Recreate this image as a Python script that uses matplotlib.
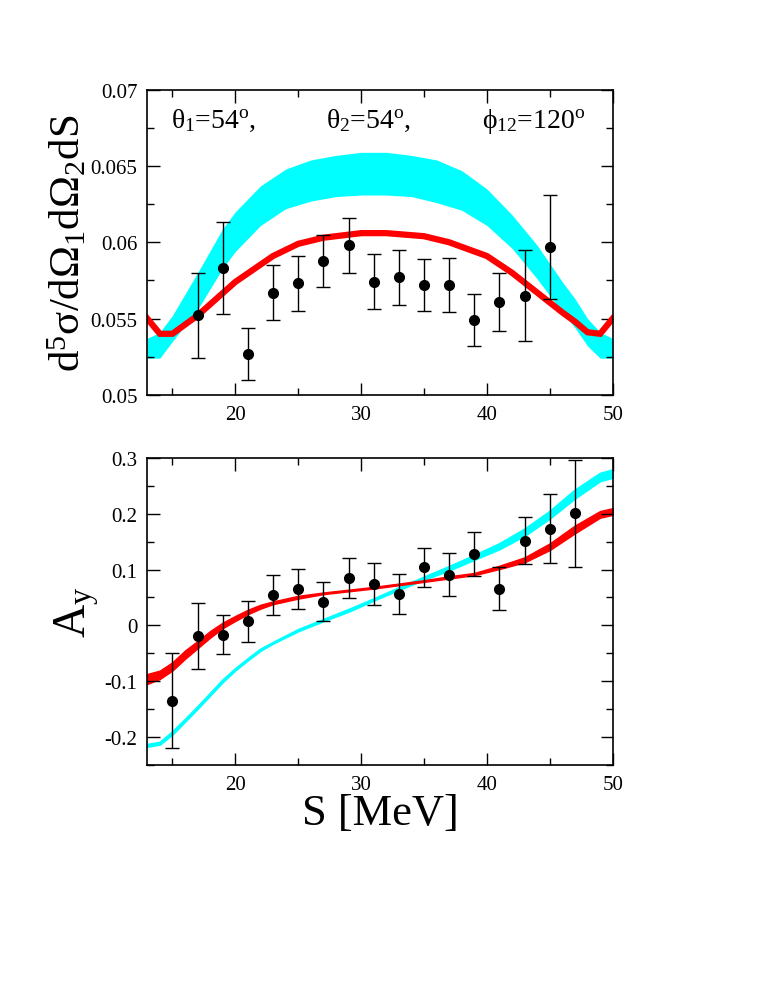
import numpy as np
import matplotlib
matplotlib.use("Agg")
import matplotlib.pyplot as plt
from matplotlib.ticker import MultipleLocator

plt.rcParams['font.family'] = ['Liberation Serif', 'DejaVu Serif']
plt.rcParams['mathtext.fontset'] = 'custom'
plt.rcParams['mathtext.rm'] = 'Liberation Serif'
plt.rcParams['mathtext.it'] = 'Liberation Serif'
plt.rcParams['mathtext.bf'] = 'Liberation Serif:bold'

# --- cross section panel ---
xs_S = [17, 19, 21, 23, 25, 27, 29, 31, 33, 35, 37, 39, 41, 43, 45]
xs_val = [0.0552, 0.0583, 0.0527, 0.0567, 0.0573, 0.0588, 0.0598, 0.0574,
          0.0577, 0.0572, 0.0572, 0.0549, 0.0561, 0.0565, 0.0597]
xs_err = [0.0028, 0.0030, 0.0017, 0.0018, 0.0018, 0.0017, 0.0018, 0.0018,
          0.0018, 0.0017, 0.0018, 0.0017, 0.0019, 0.0030, 0.0034]

xs_red_S = [13, 14, 15, 17, 20, 23, 25, 27, 30, 32, 35, 37, 40, 42, 44, 46, 47, 48, 49, 50]
xs_red = [0.0550, 0.0540, 0.0540, 0.0552, 0.0574, 0.0591, 0.0599, 0.0603, 0.0606, 0.0606,
          0.0604, 0.0600, 0.0591, 0.0580, 0.0567, 0.0554, 0.0548, 0.0541, 0.0540, 0.0550]

xs_cyan_S = [13, 14, 15, 17, 19, 20, 22, 24, 26, 28, 30, 32, 34, 36, 38, 40, 42, 44, 46, 47, 48, 49, 50]
xs_cyan_lo = [0.0524, 0.0524, 0.0535, 0.0556, 0.0583, 0.0594, 0.0611, 0.0622, 0.0627, 0.0630,
              0.0631, 0.0631, 0.0630, 0.0626, 0.0621, 0.0611, 0.0596, 0.0576, 0.0554, 0.0544,
              0.0532, 0.0524, 0.0524]
xs_cyan_hi = [0.0537, 0.0541, 0.0552, 0.0580, 0.0609, 0.0620, 0.0637, 0.0648, 0.0654, 0.0657,
              0.0659, 0.0659, 0.0657, 0.0654, 0.0647, 0.0635, 0.0618, 0.0598, 0.0574, 0.0563,
              0.0550, 0.0541, 0.0537]

# --- analyzing power panel ---
ay_S = [15, 17, 19, 21, 23, 25, 27, 29, 31, 33, 35, 37, 39, 41, 43, 45, 47]
ay_val = [-0.135, -0.019, -0.017, 0.007, 0.054, 0.065, 0.042, 0.085, 0.074, 0.056,
          0.104, 0.091, 0.128, 0.066, 0.152, 0.173, 0.201]
ay_err = [0.085, 0.059, 0.035, 0.036, 0.036, 0.036, 0.035, 0.036, 0.037, 0.036,
          0.035, 0.038, 0.039, 0.038, 0.042, 0.062, 0.096]

ay_band_S = [13, 14, 15, 16, 17, 18, 19, 20, 21, 22, 23, 25, 27, 29, 31, 33, 35, 37, 39, 41, 43, 45, 47, 49, 50]
ay_red_lo = [-0.105, -0.096, -0.081, -0.060, -0.041, -0.022, -0.005, 0.008, 0.020, 0.030,
             0.038, 0.048, 0.056, 0.061, 0.066, 0.072, 0.078, 0.084, 0.090, 0.101,
             0.113, 0.135, 0.165, 0.193, 0.198]
ay_red_hi = [-0.087, -0.081, -0.066, -0.045, -0.028, -0.010, 0.005, 0.017, 0.028, 0.037,
             0.043, 0.053, 0.059, 0.064, 0.069, 0.075, 0.081, 0.088, 0.094, 0.107,
             0.122, 0.147, 0.179, 0.205, 0.210]
ay_cyan_lo = [-0.217, -0.213, -0.195, -0.172, -0.149, -0.125, -0.101, -0.080, -0.062, -0.045,
              -0.032, -0.010, 0.008, 0.025, 0.045, 0.064, 0.082, 0.099, 0.118, 0.137,
              0.161, 0.192, 0.228, 0.259, 0.265]
ay_cyan_hi = [-0.213, -0.209, -0.190, -0.168, -0.145, -0.121, -0.097, -0.077, -0.059, -0.042,
              -0.030, -0.007, 0.011, 0.029, 0.048, 0.068, 0.087, 0.106, 0.126, 0.147,
              0.173, 0.205, 0.243, 0.273, 0.279]

CYAN = '#00FFFF'
RED = '#FF0000'

fig = plt.figure(figsize=(7.63, 9.87), dpi=100)
ax1 = fig.add_axes([0.193, 0.599, 0.610, 0.309])
ax2 = fig.add_axes([0.193, 0.224, 0.610, 0.311])


def style(ax):
    ax.set_xlim(13, 50)
    ax.xaxis.set_major_locator(MultipleLocator(10))
    ax.xaxis.set_minor_locator(MultipleLocator(5))
    ax.tick_params(which='both', direction='in', top=True, right=True, labelsize=15, pad=7)
    ax.tick_params(which='major', length=9, width=1)
    ax.tick_params(which='minor', length=5, width=1)
    for sp in ax.spines.values():
        sp.set_linewidth(1.2)


# top panel
ax1.fill_between(xs_cyan_S, xs_cyan_lo, xs_cyan_hi, color=CYAN, lw=0)
ax1.plot(xs_red_S, xs_red, color=RED, lw=4.5, solid_joinstyle='miter')
ax1.errorbar(xs_S, xs_val, yerr=xs_err, fmt='o', color='black', ms=7,
             capsize=5, elinewidth=1, capthick=1)
style(ax1)
ax1.set_ylim(0.05, 0.07)
ax1.set_yticks([0.05, 0.055, 0.06, 0.065, 0.07])
ax1.set_yticklabels(['0.05', '0.055', '0.06', '0.065', '0.07'])
ax1.yaxis.set_minor_locator(MultipleLocator(0.0025))
ax1.set_ylabel(r'd$^5$σ/dΩ$_1$dΩ$_2$dS', fontsize=31)
ax1.yaxis.set_label_coords(-0.125, 0.5)
ax1.text(0.05, 0.90, r'θ$_1$=54$^{\rm o}$,', transform=ax1.transAxes, fontsize=20, va='center')
ax1.text(0.385, 0.90, r'θ$_2$=54$^{\rm o}$,', transform=ax1.transAxes, fontsize=20, va='center')
ax1.text(0.72, 0.90, r'ϕ$_{12}$=120$^{\rm o}$', transform=ax1.transAxes, fontsize=20, va='center')

# bottom panel
ax2.fill_between(ay_band_S, ay_cyan_lo, ay_cyan_hi, color=CYAN, lw=1.5, edgecolor=CYAN)
ax2.fill_between(ay_band_S, ay_red_lo, ay_red_hi, color=RED, lw=1, edgecolor=RED)
ax2.errorbar(ay_S, ay_val, yerr=ay_err, fmt='o', color='black', ms=7,
             capsize=5, elinewidth=1, capthick=1)
style(ax2)
ax2.set_ylim(-0.25, 0.3)
ax2.set_yticks([-0.2, -0.1, 0, 0.1, 0.2, 0.3])
ax2.set_yticklabels(['-0.2', '-0.1', '0', '0.1', '0.2', '0.3'])
ax2.yaxis.set_minor_locator(MultipleLocator(0.05))
ax2.set_ylabel(r'A$_{\rm y}$', fontsize=33)
ax2.yaxis.set_label_coords(-0.10, 0.5)
ax2.set_xlabel('S [MeV]', fontsize=32)
ax2.xaxis.set_label_coords(0.5, -0.09)

fig.savefig('out.png', dpi=100)
